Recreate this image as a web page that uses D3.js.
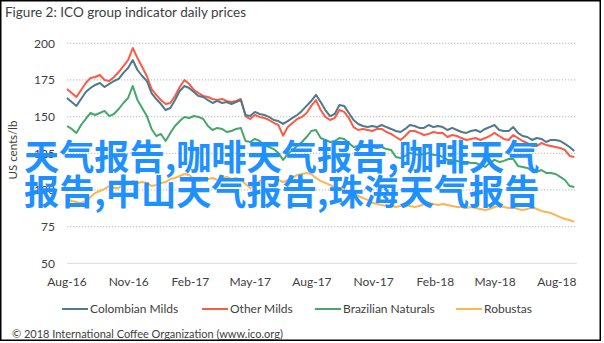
<!DOCTYPE html>
<html>
<head>
<meta charset="utf-8">
<script src="https://cdn.jsdelivr.net/npm/d3@7"></script>
<style>
  html, body { margin: 0; padding: 0; background: #fff; }
  svg { display: block; }
</style>
</head>
<body>
<svg id="chart" width="604" height="343"></svg>
<script>
// ICO group indicator prices, weekly readings from 1 Aug 2016 (US cents/lb)
const startDate = "2016-08-01";
const stepDays = 7;

const colombianMilds = [
  162.7,160.0,157.3,162.0,166.8,169.5,171.6,172.9,170.2,172.3,174.3,175.7,179.8,183.2,188.6,181.8,
  177.7,174.3,166.1,162.0,158.6,154.5,155.9,161.3,167.5,170.9,169.5,166.8,164.1,163.4,161.3,159.3,
  160.7,159.3,160.0,158.6,160.0,161.3,151.1,150.4,153.2,151.8,151.1,149.8,147.7,147.0,145.0,147.0,
  149.1,151.1,153.9,157.3,160.7,164.8,160.0,154.5,150.4,151.8,157.9,157.3,152.5,147.7,145.0,143.6,
  142.9,143.6,142.9,144.3,142.9,141.6,140.2,139.5,141.6,144.3,143.6,142.3,142.3,144.3,142.9,143.6,
  142.9,140.9,142.3,140.9,139.5,138.9,140.2,140.9,139.5,141.6,142.9,144.3,140.9,140.2,140.2,142.9,
  138.9,136.8,136.1,134.1,135.4,134.8,132.7,134.1,134.1,133.4,131.4,129.3,126.6
];
const otherMilds = [
  168.8,166.1,163.4,168.2,172.9,176.3,177.0,178.4,175.0,174.3,177.0,180.4,184.5,188.6,196.8,190.0,
  183.8,177.7,168.8,164.8,161.3,158.6,159.3,164.1,170.2,175.0,172.3,168.2,166.1,164.1,163.4,162.0,
  161.3,162.0,160.7,160.0,160.7,162.0,150.4,148.4,151.1,149.8,149.1,147.7,145.7,144.3,137.0,142.9,
  145.7,148.4,149.8,152.5,157.3,161.3,154.5,149.8,147.7,149.1,154.5,153.2,149.1,142.9,140.9,141.6,
  140.9,140.2,141.6,141.6,139.5,138.2,136.1,134.1,136.8,140.2,140.2,138.9,137.5,138.2,139.5,138.9,
  138.9,136.1,137.5,136.8,135.4,134.1,134.8,135.4,134.1,135.4,136.8,138.9,136.8,134.8,134.1,137.5,
  135.4,133.4,132.0,130.0,130.0,132.0,130.7,130.0,129.3,128.6,127.3,123.2,122.5
];
const brazilianNaturals = [
  143.6,141.6,138.9,144.3,148.4,152.5,151.1,152.5,153.9,150.4,151.8,155.2,159.3,162.7,170.9,161.3,
  155.9,150.4,141.6,136.8,138.2,133.4,138.9,143.6,147.0,149.8,149.1,150.4,149.8,148.4,143.6,140.9,
  142.3,141.6,139.5,140.2,141.6,142.3,133.4,132.7,134.8,133.4,130.7,129.3,127.9,125.2,120.5,124.5,
  127.3,130.0,132.7,136.1,140.2,140.9,135.4,134.1,132.7,133.4,135.4,134.8,132.0,129.3,130.0,130.7,
  130.7,129.3,128.6,129.3,127.9,127.3,122.5,121.8,123.2,125.2,124.5,123.9,124.5,125.2,123.9,123.9,
  122.5,120.5,120.5,119.8,119.1,119.1,118.4,118.4,117.1,115.7,118.4,120.5,119.1,119.8,121.1,121.1,
  116.4,115.7,115.0,113.0,112.3,113.6,111.6,111.6,110.9,108.9,106.8,102.7,102.0
];
const robustas = [
  93.9,92.5,91.8,91.1,92.5,95.2,98.0,99.3,100.7,102.7,101.4,101.4,103.4,104.1,106.1,104.8,
  105.4,104.8,102.7,103.4,104.8,105.4,107.5,108.2,109.5,110.9,110.2,107.5,106.1,108.2,107.5,108.2,
  106.8,108.2,108.9,107.5,108.2,106.8,104.1,101.4,103.4,106.1,106.8,107.5,108.2,106.8,105.4,106.8,
  108.2,110.2,110.9,111.6,110.9,108.2,106.1,104.8,103.4,102.0,101.4,100.0,99.3,98.0,95.9,94.5,
  93.2,91.1,90.4,89.8,89.1,89.1,88.4,89.1,89.8,89.1,88.4,89.1,90.4,91.1,90.4,89.8,
  90.4,89.8,89.1,88.4,88.4,87.7,88.4,87.7,87.0,86.3,87.0,88.4,89.1,88.4,87.7,88.4,
  87.0,86.3,87.0,88.4,87.0,85.7,85.0,84.3,82.9,81.5,80.2,79.5,78.2
];

const seriesNames = ["Colombian Milds", "Other Milds", "Brazilian Naturals", "Robustas"];
const seriesColors = ["#4d7a8c", "#fd5a46", "#45a86a", "#fdb64e"];
const seriesValues = [colombianMilds, otherMilds, brazilianNaturals, robustas];

const xTickLabels = ["Aug-16","Nov-16","Feb-17","May-17","Aug-17","Nov-17","Feb-18","May-18","Aug-18"];
const yTicks = [50, 75, 100, 125, 150, 175, 200];
const axisEnd = "2018-08-31";

const titleText = "Figure 2: ICO group indicator daily prices";
const yAxisTitle = "US cents/lb";
const creditPrefix = "© 2018 International Coffee Organization (";
const creditLink = "www.ico.org";
const creditSuffix = ")";
const bannerLines = ["天气报告,咖啡天气报告,咖啡天气", "报告,中山天气报告,珠海天气报告"];

// ---- drawing ----
const svg = d3.select("#chart");
const parseDay = d3.timeParse("%Y-%m-%d");
const parseTick = d3.timeParse("%b-%y");
const t0 = parseDay(startDate);
const dates = colombianMilds.map((_, i) => d3.timeDay.offset(t0, i * stepDays));

const x = d3.scaleTime().domain([t0, parseDay(axisEnd)]).range([67, 577]);
const y = d3.scaleLinear().domain([50, 200]).range([263.3, 43.3]);

const font = "Lato, 'Open Sans', sans-serif";

// outer frame
svg.append("rect")
  .attr("x", 0.75).attr("y", 0.75).attr("width", 599.5).attr("height", 339.5)
  .attr("fill", "#fff").attr("stroke", "#000").attr("stroke-width", 1.5);

// title
svg.append("text")
  .attr("x", 5).attr("y", 17)
  .attr("font-family", font).attr("font-size", 13.5)
  .attr("fill", "#404040")
  .text(titleText);

// gridlines
const grid = svg.append("g");
grid.selectAll("line").data(yTicks).join("line")
  .attr("x1", 67).attr("x2", 577)
  .attr("y1", d => y(d)).attr("y2", d => y(d))
  .attr("stroke", d => d === 50 ? "#d9d9d9" : "#c8c8c8")
  .attr("stroke-width", d => d === 50 ? 1 : 1.3)
  .attr("stroke-dasharray", d => d === 50 ? null : "1.3,1.7");

// y tick labels
svg.append("g").selectAll("text").data(yTicks).join("text")
  .attr("x", 55).attr("y", d => y(d)).attr("dy", "0.35em")
  .attr("text-anchor", "end")
  .attr("font-family", font).attr("font-size", 12)
  .attr("fill", "#404040")
  .text(d => d);

// y axis title
svg.append("text")
  .attr("transform", "translate(17,150) rotate(-90)")
  .attr("text-anchor", "middle")
  .attr("font-family", font).attr("font-size", 11.5)
  .attr("fill", "#404040")
  .text(yAxisTitle);

// x tick labels
svg.append("g").selectAll("text").data(xTickLabels).join("text")
  .attr("x", d => x(parseTick(d))).attr("y", 286)
  .attr("text-anchor", "middle")
  .attr("font-family", font).attr("font-size", 12)
  .attr("fill", "#404040")
  .text(d => d);

// price lines
const line = d3.line().x((d, i) => x(dates[i])).y(d => y(d));
const order = [3, 2, 1, 0];
svg.append("g").selectAll("path").data(order).join("path")
  .attr("d", k => line(seriesValues[k]))
  .attr("fill", "none")
  .attr("stroke", k => seriesColors[k])
  .attr("stroke-width", 2)
  .attr("stroke-linejoin", "round");

// legend
const legendX = [62, 202, 315, 456];
const legend = svg.append("g").selectAll("g").data(seriesNames).join("g")
  .attr("transform", (d, i) => `translate(${legendX[i]},309)`);
legend.append("line")
  .attr("x1", 0).attr("x2", 26).attr("y1", 0).attr("y2", 0)
  .attr("stroke", (d, i) => seriesColors[i]).attr("stroke-width", 2);
legend.append("text")
  .attr("x", 28).attr("dy", "0.35em")
  .attr("font-family", font).attr("font-size", 12)
  .attr("fill", "#404040")
  .text(d => d);

// credit line
const credit = svg.append("text")
  .attr("x", 12).attr("y", 338)
  .attr("font-family", font).attr("font-size", 11)
  .attr("fill", "#404040");
credit.append("tspan").text(creditPrefix);
credit.append("tspan").attr("text-decoration", "underline").text(creditLink);
credit.append("tspan").text(creditSuffix);

// banner text across the plot
svg.append("g").selectAll("text").data(bannerLines).join("text")
  .attr("x", 24).attr("y", (d, i) => 170 + i * 35)
  .attr("font-family", "'Noto Sans CJK SC', sans-serif")
  .attr("font-weight", 700)
  .attr("font-size", 35.2)
  .attr("fill", "#1e90ff")
  .text(d => d);
</script>
</body>
</html>
